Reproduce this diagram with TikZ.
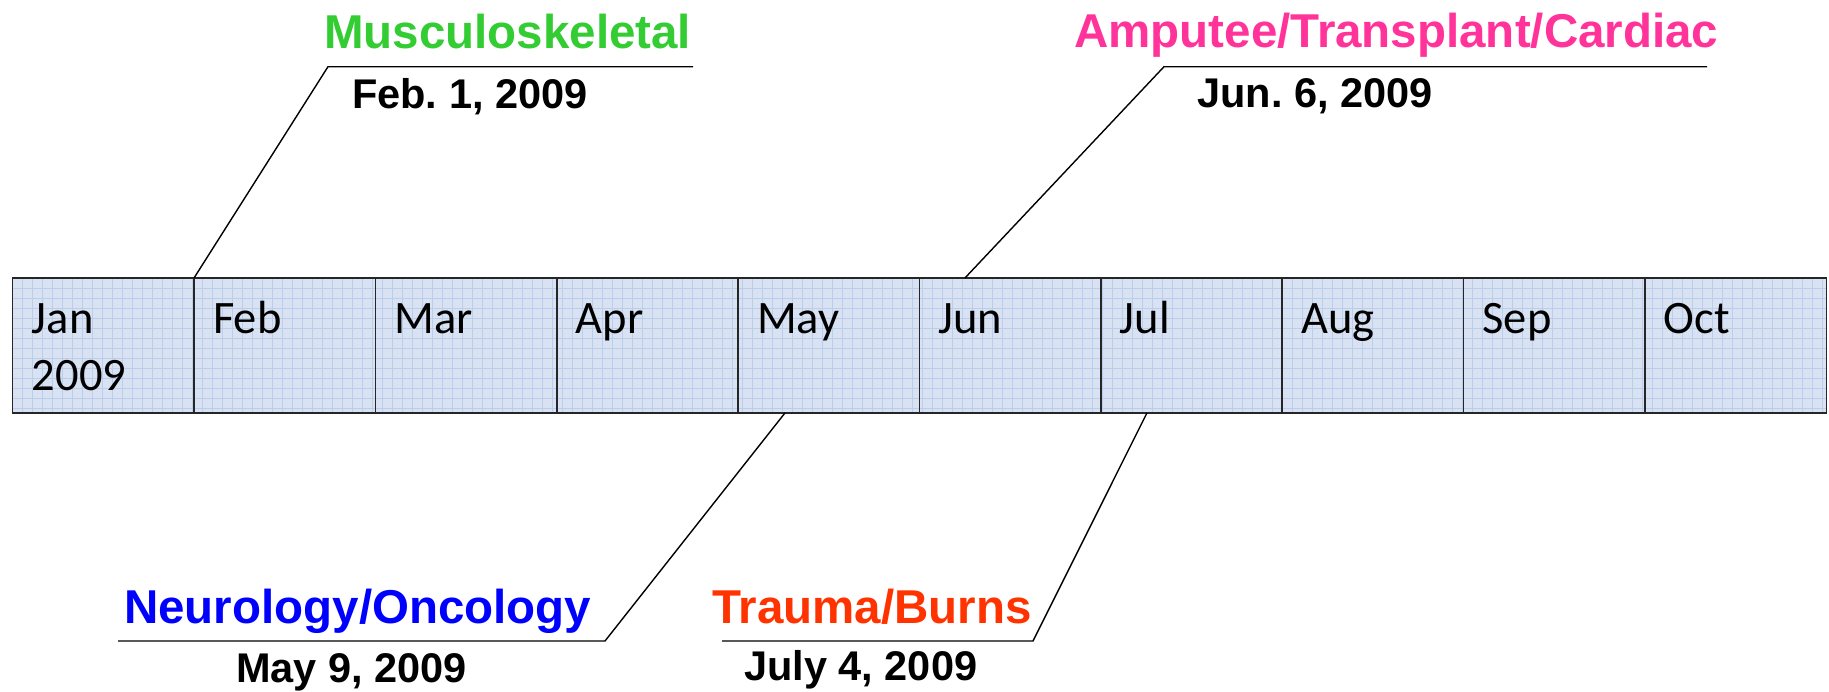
\documentclass[tikz,border=0pt]{standalone}
\usepackage{fontspec}
\setmainfont{Liberation Sans}
\newfontfamily\monthfont{Carlito}
\definecolor{cellfill}{HTML}{D8E2F2}
\definecolor{gridline}{HTML}{BACEEA}
\definecolor{musgreen}{HTML}{33CC33}
\definecolor{amppink}{HTML}{FF3399}
\definecolor{neublue}{HTML}{0000FF}
\definecolor{trared}{HTML}{FF3300}
\tikzset{
  cell/.style={minimum width=181.33pt, minimum height=134.5pt, inner sep=0pt, anchor=north west},
  cellborder/.style={draw=black!85, line width=1.2pt},
  monthlbl/.style={font=\monthfont\fontsize{46.5}{57}\selectfont, inner sep=0pt, anchor=base west},
  cat/.style={font=\bfseries\fontsize{47.5}{56}\selectfont, inner sep=0pt, anchor=base west},
  datelbl/.style={font=\bfseries\fontsize{41.5}{50}\selectfont, inner sep=0pt, anchor=base west},
  conn/.style={draw=black, line width=1.4pt}
}
\begin{document}
\frenchspacing
\begin{tikzpicture}[x=1pt,y=-1pt]
\useasboundingbox (0,0) rectangle (1829,691);

% month cells of the timeline bar
\foreach \i in {0,...,9} {
  \node[cell, fill=cellfill] (c\i) at ({12.7+181.33*\i},278) {};
}
% fine grid inside the bar
\begin{scope}
  \clip (c0.north west) rectangle (c9.south east);
  \foreach \gx in {22,32,...,1822} \draw[gridline, line width=0.8pt] (\gx,278) -- (\gx,413);
  \foreach \gy in {288,298,...,408} \draw[gridline, line width=0.8pt] (12,\gy) -- (1827,\gy);
\end{scope}
\foreach \i in {0,...,9} {
  \draw[cellborder] (c\i.north west) rectangle (c\i.south east);
}

% month names
\foreach \i/\m in {0/Jan,1/Feb,2/Mar,3/Apr,4/May,5/Jun,6/Jul,7/Aug,8/Sep,9/Oct} {
  \node[monthlbl] (m\i) at ([shift={(19,55)}]c\i.north west) {\m};
}
\node[monthlbl] (year) at ([shift={(19,112)}]c0.north west) {2009};

% Musculoskeletal
\node[cat, text=musgreen] (mus) at (324,48) {Musculoskeletal};
\node[datelbl] (musd) at (352,108) {Feb. 1, 2009};
\coordinate (musk) at (328,66.7);
\coordinate (muse) at (693,66.7);
\draw[conn] (c1.north west) -- (musk) -- (muse);

% Amputee/Transplant/Cardiac
\node[cat, text=amppink] (amp) at (1074,47) {Amputee/Transplant/Cardiac};
\node[datelbl] (ampd) at (1197,107) {Jun. 6, 2009};
\coordinate (ampk) at (1164,66.7);
\coordinate (ampe) at (1707,66.7);
\draw[conn] ([xshift=45.6pt]c5.north west) -- (ampk) -- (ampe);

% Neurology/Oncology
\node[cat, text=neublue] (neu) at (124,623) {Neurology/Oncology};
\node[datelbl] (neud) at (236,682) {May 9, 2009};
\coordinate (neuk) at (605,641);
\coordinate (neue) at (118,641);
\draw[conn] ([xshift=47pt]c4.south west) -- (neuk) -- (neue);

% Trauma/Burns
\node[cat, text=trared] (tra) at (712,623) {Trauma/Burns};
\node[datelbl] (trad) at (744,680) {July 4, 2009};
\coordinate (trak) at (1033,641);
\coordinate (trae) at (722,641);
\draw[conn] ([xshift=46.3pt]c6.south west) -- (trak) -- (trae);
\end{tikzpicture}
\end{document}
